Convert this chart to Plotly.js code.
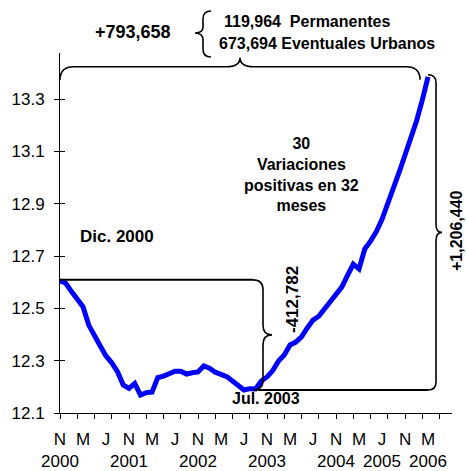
<!DOCTYPE html>
<html><head><meta charset="utf-8">
<script src="https://cdn.plot.ly/plotly-3.0.1.min.js"></script>
<style>body{margin:0;background:#fff}#c{width:466px;height:471px}</style>
</head><body><div id="c"></div>
<script>
// Monthly series, Nov 2000 (index 0) .. Mar 2006 (index 64), log scale values
const values = [12.605,12.596,12.564,12.534,12.506,12.436,12.392,12.356,12.318,12.292,
12.258,12.207,12.194,12.213,12.169,12.178,12.180,12.235,12.241,12.248,
12.260,12.260,12.249,12.254,12.257,12.280,12.271,12.256,12.248,12.239,
12.222,12.205,12.188,12.193,12.192,12.222,12.238,12.262,12.299,12.322,
12.360,12.371,12.391,12.425,12.455,12.470,12.497,12.524,12.547,12.581,
12.626,12.669,12.651,12.727,12.757,12.793,12.840,12.897,12.955,13.022,
13.086,13.146,13.216,13.296,13.385];
const monthIndex = values.map((v,i)=>i);
const jul2003Index = 32;
const tickMarkIdx = [0,3,6,9,12,15,18,21,24,27,30,33,36,39,42,45,48,51,54,57,60,63,66];
const labelIdx = [0,4,8,12,16,20,24,28,32,36,40,44,48,52,56,60,64];
const labelText = ['N<br>2000','M','J','N<br>2001','M','J','N<br>2002','M','J','N<br>2003','M','J','N<br>2004','M','J<br>2005','N','M<br>2006'];
const yTicks = [12.1,12.3,12.5,12.7,12.9,13.1,13.3];
const yTickText = ['12.1','12.3','12.5','12.7','12.9','13.1','13.3'];

const L=60,T=53,W=392,H=360, R=466-L-W, B=471-T-H;
const xr=[0,68.17], yr=[12.1,13.476];
const px=x=>L+(x-xr[0])/(xr[1]-xr[0])*W;
const py=y=>T+(yr[1]-y)/(yr[1]-yr[0])*H;
const dx=p=>xr[0]+(p-L)/W*(xr[1]-xr[0]);
const dy=p=>yr[1]-(p-T)/H*(yr[1]-yr[0]);
function path(cmds){
  return cmds.map(c=>{let s=c[0];for(let k=1;k<c.length;k+=2){s+=' '+dx(c[k]).toFixed(4)+','+dy(c[k+1]).toFixed(5);}return s;}).join(' ');
}
function ppath(cmds){ // paper coords
  return cmds.map(c=>{let s=c[0];for(let k=1;k<c.length;k+=2){s+=' '+((c[k]-L)/W).toFixed(5)+','+(1-(c[k+1]-T)/H).toFixed(5);}return s;}).join(' ');
}
function vBrace(x,y0,y1,tip,r){
  const m=(y0+y1)/2;
  return [['M',x-r,y0],['Q',x,y0,x,y0+r],['L',x,m-r],['Q',x,m,x+tip,m],['Q',x,m,x,m+r],['L',x,y1-r],['Q',x,y1,x-r,y1]];
}
function hBrace(y,x0,x1,drop,tip,r){
  const m=(x0+x1)/2;
  return [['M',x0,y+drop],['Q',x0,y,x0+r,y],['L',m-r,y],['Q',m,y,m,y-tip],['Q',m,y,m+r,y],['L',x1-r,y],['Q',x1,y,x1,y+drop]];
}

const vLow = values[jul2003Index], vStart = values[0], iMax = values.length-1, vMax = values[iMax];
const xb = px(jul2003Index)+19, xr2 = px(iMax)+8;
const yTop = py(vMax)-10;
const stroke = {color:'#000', width:1.6};
const shapes = [
  {type:'line',xref:'x',yref:'y',x0:dx(L-3),x1:dx(xb-10),y0:vStart+0.004,y1:vStart+0.004,line:{color:'#000',width:2}},
  {type:'path',xref:'x',yref:'y',path:path(vBrace(xb,py(vStart+0.004),py(vLow),9,10)),line:stroke},
  {type:'line',xref:'x',yref:'y',x0:dx(xb-5),x1:dx(xr2-8),y0:vLow,y1:vLow,line:{color:'#000',width:2}},
  {type:'path',xref:'x',yref:'y',path:path(vBrace(xr2,py(vMax)-2,py(vLow),6,8)),line:stroke},
  {type:'path',xref:'paper',yref:'paper',path:ppath(hBrace(yTop,L,px(iMax)-8,13,9,14)),line:stroke},
  {type:'path',xref:'paper',yref:'paper',path:ppath([['M',211,11],['Q',203,11,203,19],['L',203,27],['Q',203,33,195,33],['Q',203,33,203,40],['L',203,49],['Q',203,57,211,57]]),line:stroke}
];
const ff='Liberation Sans, Arial, sans-serif';
function ann(text,x,y,size,opts){
  return Object.assign({text:'<b>'+text+'</b>',xref:'paper',yref:'paper',x:(x-L)/W,y:1-(y-T)/H,xanchor:'center',yanchor:'middle',showarrow:false,font:{family:ff,size:size,color:'#000'}},opts||{});
}
const annotations = [
  ann('+793,658',133,32,18),
  ann('119,964  Permanentes',222,21,16,{xanchor:'left'}),
  ann('673,694 Eventuales Urbanos',217,43,16,{xanchor:'left'}),
  ann('Dic. 2000',117,236,17),
  ann('30<br>Variaciones<br>positivas en 32<br>meses',301,174,16),
  ann('-412,782',292,300,17,{textangle:-90}),
  ann('+1,206,440',456,230,16,{textangle:-90}),
  ann('Jul. 2003',266,398,16)
];
const trace = {x:monthIndex,y:values,type:'scatter',mode:'lines',line:{color:'#0000FF',width:5},hoverinfo:'skip',showlegend:false,cliponaxis:false};
const layout = {
  width:466,height:471,margin:{l:L,r:R,t:T,b:B},paper_bgcolor:'#fff',plot_bgcolor:'#fff',showlegend:false,
  font:{family:ff,size:17,color:'#000'},
  xaxis:{range:xr,tickmode:'array',tickvals:tickMarkIdx,ticks:'outside',ticklen:5,tickcolor:'#000',showticklabels:false,showline:true,linecolor:'#000',linewidth:1,showgrid:false,zeroline:false,fixedrange:true},
  xaxis2:{range:xr,overlaying:'x',anchor:'y',side:'bottom',tickmode:'array',tickvals:labelIdx,ticktext:labelText,tickangle:0,ticks:'',showline:false,showgrid:false,zeroline:false,ticklabelstandoff:14,tickfont:{size:17}},
  yaxis:{range:yr,tickmode:'array',tickvals:yTicks,ticktext:yTickText,ticks:'outside',ticklen:5,tickcolor:'#000',showline:true,linecolor:'#000',linewidth:1,showgrid:false,zeroline:false,ticklabelstandoff:6,tickfont:{size:17}},
  yaxis2:{range:yr,overlaying:'y',anchor:'x',side:'left',tickmode:'array',tickvals:yTicks,ticks:'inside',ticklen:5,tickcolor:'#000',showticklabels:false,showline:false,showgrid:false,zeroline:false},
  shapes:shapes,annotations:annotations
};
Plotly.newPlot('c',[trace,{x:[0],y:[12.1],xaxis:'x2',yaxis:'y2',mode:'markers',marker:{opacity:0},hoverinfo:'skip',showlegend:false}],layout,{staticPlot:true});
</script></body></html>
